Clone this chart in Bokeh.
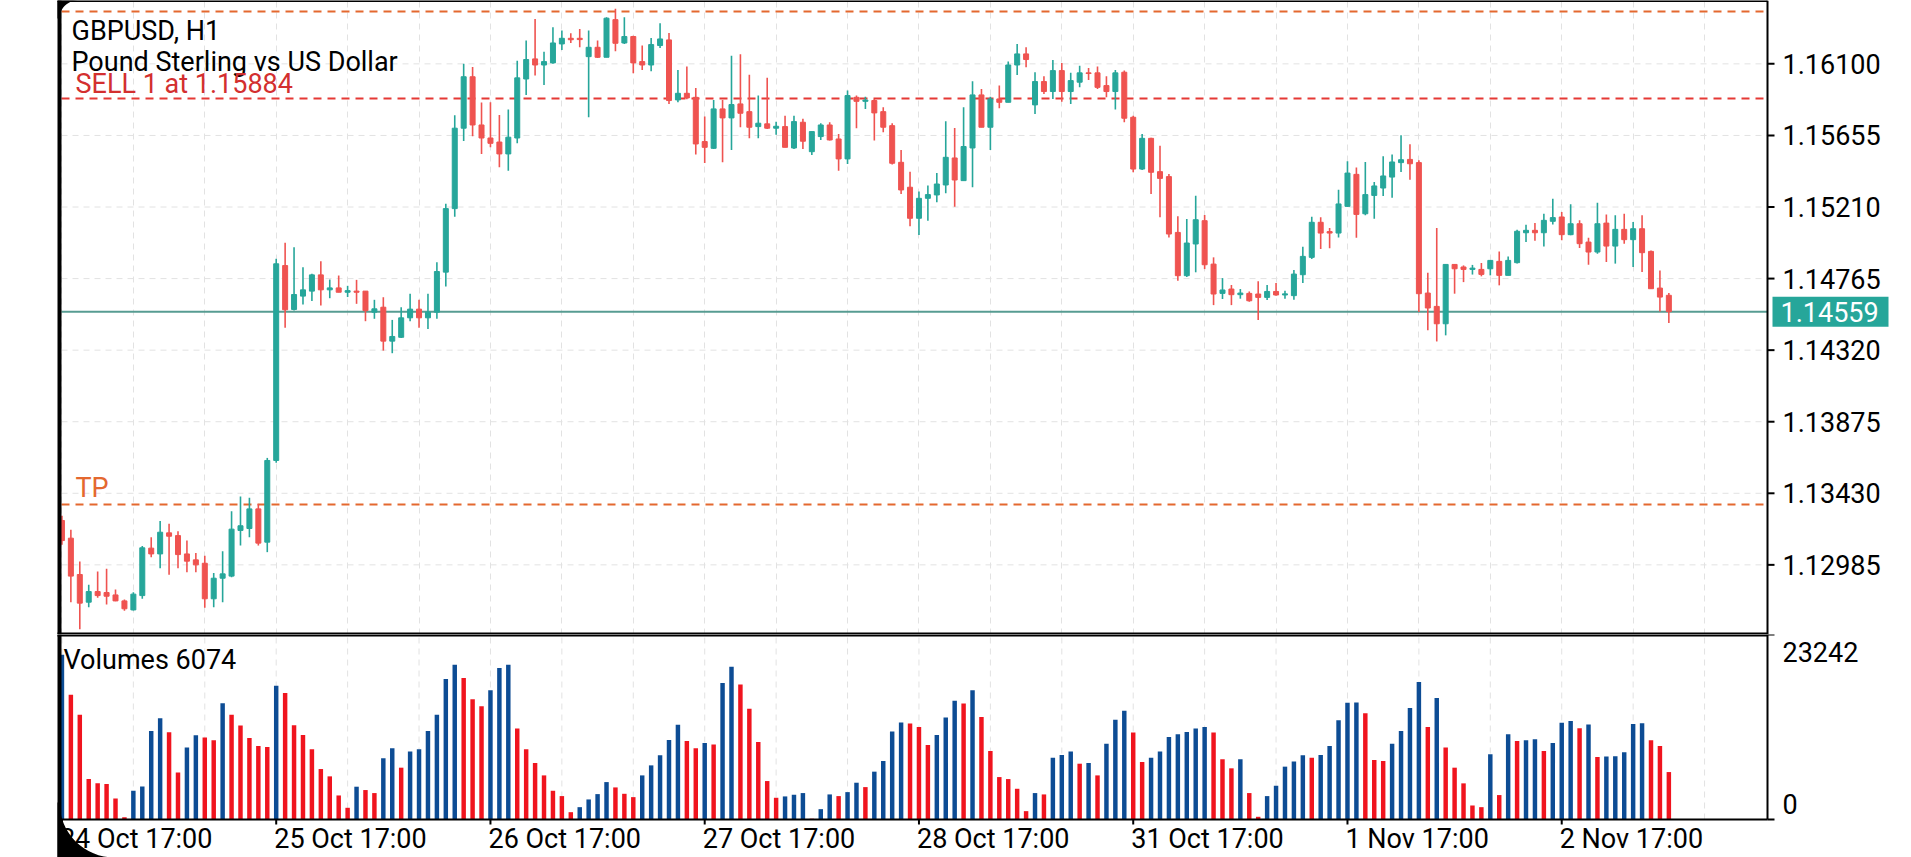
import math
from bokeh.plotting import figure
from bokeh.models import ColumnDataSource, FixedTicker, Range1d, Grid
from bokeh.layouts import column
from bokeh.embed import file_html
from bokeh.resources import INLINE
from bokeh.core.properties import value

# ---------------- data ----------------
symbol = "GBPUSD, H1"
description = "Pound Sterling vs US Dollar"
order_text = "SELL 1 at 1.15884"
tp_text = "TP"
sell_price = 1.15884
tp_price = 1.13360
sl_price = 1.16425
last_price = 1.14559
price_ticks = [1.12985, 1.13430, 1.13875, 1.14320, 1.14765, 1.15210, 1.15655, 1.16100]
vol_max = 23242
vol_title = "Volumes 6074"
date_ticks = [0, 24, 48, 72, 96, 120, 144, 168]
date_labels = ["24 Oct 17:00", "25 Oct 17:00", "26 Oct 17:00", "27 Oct 17:00",
               "28 Oct 17:00", "31 Oct 17:00", "1 Nov 17:00", "2 Nov 17:00"]

opens = [1.13261, 1.13151, 1.12925, 1.12753, 1.12819, 1.12813, 1.12798, 1.12761, 1.12705, 1.12794,
         1.13089, 1.13053, 1.13184, 1.13167, 1.13053, 1.13016, 1.12995, 1.12774, 1.12902, 1.12915,
         1.13199, 1.13211, 1.13333, 1.13126, 1.13634, 1.14846, 1.14573, 1.14656, 1.14687, 1.14788,
         1.14695, 1.14707, 1.14680, 1.14687, 1.14687, 1.14556, 1.14587, 1.14376, 1.14400, 1.14521,
         1.14575, 1.14521, 1.14556, 1.14805, 1.15200, 1.15700, 1.16020, 1.15720, 1.15639, 1.15614,
         1.15540, 1.15639, 1.16006, 1.16131, 1.16093, 1.16106, 1.16224, 1.16259, 1.16259, 1.16145,
         1.16203, 1.16141, 1.16375, 1.16230, 1.16270, 1.16114, 1.16093, 1.16214, 1.16249, 1.15876,
         1.15917, 1.15892, 1.15617, 1.15575, 1.15820, 1.15764, 1.15851, 1.15803, 1.15710, 1.15727,
         1.15700, 1.15710, 1.15577, 1.15737, 1.15554, 1.15648, 1.15720, 1.15633, 1.15509, 1.15892,
         1.15867, 1.15872, 1.15803, 1.15716, 1.15488, 1.15333, 1.15140, 1.15264, 1.15285, 1.15347,
         1.15515, 1.15374, 1.15577, 1.15907, 1.15706, 1.15882, 1.15861, 1.16093, 1.16162, 1.15845,
         1.15990, 1.15928, 1.16058, 1.15928, 1.15986, 1.16044, 1.16044, 1.15965, 1.15928, 1.16048,
         1.15768, 1.15446, 1.15637, 1.15430, 1.15399, 1.15052, 1.14783, 1.14980, 1.15125, 1.14855,
         1.14673, 1.14700, 1.14665, 1.14673, 1.14669, 1.14648, 1.14685, 1.14663, 1.14659, 1.14789,
         1.14897, 1.15115, 1.15057, 1.15048, 1.15214, 1.15413, 1.15168, 1.15282, 1.15328, 1.15396,
         1.15486, 1.15506, 1.15486, 1.14675, 1.14592, 1.14484, 1.14853, 1.14837, 1.14822, 1.14822,
         1.14826, 1.14872, 1.14785, 1.14864, 1.15050, 1.15065, 1.15050, 1.15121, 1.15148, 1.15038,
         1.15106, 1.14992, 1.14930, 1.15110, 1.14967, 1.15071, 1.15007, 1.15075, 1.14934, 1.14706,
         1.14661]
highs = [1.13290, 1.13203, 1.13006, 1.12861, 1.12944, 1.12961, 1.12832, 1.12770, 1.12815, 1.13103,
         1.13157, 1.13257, 1.13240, 1.13194, 1.13136, 1.13058, 1.13041, 1.12935, 1.13070, 1.13319,
         1.13410, 1.13402, 1.13364, 1.13650, 1.14888, 1.14987, 1.14960, 1.14836, 1.14795, 1.14873,
         1.14759, 1.14784, 1.14720, 1.14757, 1.14687, 1.14633, 1.14649, 1.14508, 1.14587, 1.14670,
         1.14633, 1.14670, 1.14867, 1.15230, 1.15780, 1.16100, 1.16080, 1.15860, 1.15861, 1.15782,
         1.15816, 1.16120, 1.16245, 1.16379, 1.16176, 1.16328, 1.16307, 1.16290, 1.16317, 1.16307,
         1.16245, 1.16390, 1.16442, 1.16390, 1.16275, 1.16214, 1.16261, 1.16352, 1.16292, 1.16062,
         1.16083, 1.15950, 1.15772, 1.15876, 1.15876, 1.16150, 1.16160, 1.16033, 1.15903, 1.16013,
         1.15740, 1.15778, 1.15778, 1.15758, 1.15679, 1.15731, 1.15737, 1.15664, 1.15934, 1.15903,
         1.15895, 1.15882, 1.15830, 1.15731, 1.15565, 1.15430, 1.15306, 1.15343, 1.15422, 1.15743,
         1.15702, 1.15830, 1.15992, 1.15944, 1.15896, 1.15965, 1.16114, 1.16224, 1.16203, 1.16048,
         1.16023, 1.16124, 1.16106, 1.16044, 1.16089, 1.16075, 1.16083, 1.16023, 1.16062, 1.16058,
         1.15778, 1.15664, 1.15640, 1.15591, 1.15415, 1.15152, 1.15135, 1.15280, 1.15160, 1.14897,
         1.14768, 1.14725, 1.14700, 1.14685, 1.14748, 1.14725, 1.14737, 1.14690, 1.14818, 1.14963,
         1.15150, 1.15146, 1.15080, 1.15318, 1.15494, 1.15455, 1.15490, 1.15365, 1.15525, 1.15537,
         1.15656, 1.15600, 1.15500, 1.14802, 1.15079, 1.14853, 1.14853, 1.14847, 1.14850, 1.14862,
         1.14878, 1.14934, 1.14903, 1.15069, 1.15100, 1.15110, 1.15168, 1.15262, 1.15179, 1.15227,
         1.15127, 1.15019, 1.15237, 1.15164, 1.15158, 1.15168, 1.15117, 1.15158, 1.14940, 1.14816,
         1.14675]
lows = [1.13110, 1.12753, 1.12585, 1.12722, 1.12780, 1.12738, 1.12759, 1.12700, 1.12701, 1.12774,
        1.13033, 1.12964, 1.12923, 1.12964, 1.12939, 1.12939, 1.12718, 1.12722, 1.12753, 1.12908,
        1.13105, 1.13157, 1.13105, 1.13064, 1.13620, 1.14459, 1.14566, 1.14604, 1.14625, 1.14598,
        1.14643, 1.14680, 1.14650, 1.14608, 1.14500, 1.14515, 1.14317, 1.14301, 1.14396, 1.14500,
        1.14459, 1.14452, 1.14515, 1.14716, 1.15150, 1.15620, 1.15650, 1.15540, 1.15581, 1.15457,
        1.15436, 1.15606, 1.15907, 1.16027, 1.15969, 1.16100, 1.16187, 1.16230, 1.16203, 1.15768,
        1.16137, 1.16141, 1.16178, 1.16224, 1.16042, 1.16062, 1.16054, 1.16199, 1.15851, 1.15861,
        1.15880, 1.15536, 1.15484, 1.15571, 1.15488, 1.15565, 1.15706, 1.15637, 1.15637, 1.15695,
        1.15660, 1.15581, 1.15571, 1.15571, 1.15534, 1.15627, 1.15623, 1.15436, 1.15478, 1.15700,
        1.15820, 1.15623, 1.15675, 1.15474, 1.15291, 1.15090, 1.15036, 1.15125, 1.15239, 1.15295,
        1.15212, 1.15374, 1.15333, 1.15706, 1.15565, 1.15824, 1.15861, 1.16031, 1.16079, 1.15789,
        1.15913, 1.15882, 1.15865, 1.15851, 1.15954, 1.16000, 1.15944, 1.15892, 1.15816, 1.15737,
        1.15426, 1.15440, 1.15291, 1.15146, 1.15021, 1.14752, 1.14775, 1.14804, 1.14824, 1.14600,
        1.14638, 1.14600, 1.14640, 1.14621, 1.14507, 1.14632, 1.14659, 1.14640, 1.14634, 1.14737,
        1.14887, 1.14949, 1.14953, 1.15021, 1.15210, 1.15019, 1.15158, 1.15137, 1.15278, 1.15268,
        1.15428, 1.15380, 1.14557, 1.14443, 1.14374, 1.14412, 1.14671, 1.14743, 1.14790, 1.14779,
        1.14785, 1.14723, 1.14785, 1.14858, 1.14992, 1.15000, 1.14965, 1.15102, 1.15003, 1.15034,
        1.14955, 1.14851, 1.14920, 1.14868, 1.14858, 1.14982, 1.14837, 1.14806, 1.14702, 1.14561,
        1.14489]
closes = [1.13136, 1.12915, 1.12747, 1.12819, 1.12794, 1.12790, 1.12761, 1.12712, 1.12803, 1.13091,
          1.13053, 1.13188, 1.13163, 1.13049, 1.13008, 1.12985, 1.12774, 1.12902, 1.12929, 1.13207,
          1.13228, 1.13333, 1.13120, 1.13634, 1.14857, 1.14571, 1.14666, 1.14695, 1.14788, 1.14695,
          1.14707, 1.14680, 1.14690, 1.14680, 1.14566, 1.14577, 1.14376, 1.14405, 1.14521, 1.14575,
          1.14521, 1.14556, 1.14809, 1.15200, 1.15700, 1.16020, 1.15720, 1.15639, 1.15606, 1.15540,
          1.15644, 1.16013, 1.16127, 1.16093, 1.16114, 1.16230, 1.16259, 1.16250, 1.16251, 1.16203,
          1.16141, 1.16384, 1.16228, 1.16270, 1.16106, 1.16093, 1.16220, 1.16255, 1.15872, 1.15917,
          1.15888, 1.15602, 1.15581, 1.15820, 1.15764, 1.15847, 1.15793, 1.15706, 1.15731, 1.15700,
          1.15712, 1.15581, 1.15741, 1.15619, 1.15679, 1.15720, 1.15627, 1.15509, 1.15903, 1.15867,
          1.15875, 1.15795, 1.15706, 1.15482, 1.15316, 1.15140, 1.15264, 1.15287, 1.15353, 1.15519,
          1.15378, 1.15586, 1.15907, 1.15706, 1.15882, 1.15861, 1.16093, 1.16162, 1.16127, 1.15990,
          1.15928, 1.16058, 1.15928, 1.15996, 1.16044, 1.16040, 1.15954, 1.15928, 1.16044, 1.15762,
          1.15446, 1.15637, 1.15426, 1.15388, 1.15042, 1.14783, 1.14986, 1.15131, 1.14851, 1.14669,
          1.14694, 1.14665, 1.14675, 1.14627, 1.14648, 1.14685, 1.14663, 1.14670, 1.14793, 1.14903,
          1.15115, 1.15048, 1.15048, 1.15229, 1.15421, 1.15164, 1.15287, 1.15341, 1.15403, 1.15490,
          1.15504, 1.15479, 1.14671, 1.14582, 1.14484, 1.14853, 1.14826, 1.14822, 1.14830, 1.14791,
          1.14878, 1.14785, 1.14878, 1.15059, 1.15065, 1.15050, 1.15127, 1.15144, 1.15038, 1.15106,
          1.14982, 1.14930, 1.15106, 1.14967, 1.15071, 1.15007, 1.15075, 1.14926, 1.14702, 1.14650,
          1.14559]
volumes = [20700, 15670, 13150, 5080, 4540, 4450, 2650, 290, 3610, 4160,
           11130, 12730, 10960, 5920, 9030, 10580, 10300, 9950, 14620, 13150,
           11800, 10250, 9240, 9110, 16800, 15880, 11840, 10630, 8820, 6340,
           5420, 3020, 1470, 4120, 3700, 3320, 7690, 8950, 6510, 8530,
           8820, 11130, 13150, 17640, 19450, 17770, 15120, 14240, 16250, 19030,
           19450, 11420, 8820, 7100, 5540, 3610, 2940, 920, 1550, 2520,
           3190, 4700, 4030, 3230, 2810, 5540, 6800, 8060, 10000, 11890,
           9870, 8950, 9620, 9410, 17140, 19190, 16970, 13900, 9740, 4830,
           2730, 2900, 3110, 3320, 100, 1300, 3150, 2940, 3440, 4620,
           4070, 6010, 7350, 11050, 12180, 12050, 11630, 9370, 10630, 12800,
           14910, 14570, 16250, 12890, 8610, 5330, 5080, 3860, 1050, 3320,
           3150, 7770, 8100, 8530, 7010, 7100, 5540, 9530, 12520, 13650,
           10920, 7220, 7770, 8530, 10370, 10700, 11000, 11420, 11630, 10920,
           7560, 6430, 7560, 3320, 340, 2940, 4240, 6640, 7300, 8060,
           7770, 8110, 9240, 12470, 14660, 14700, 13360, 7480, 7350, 9530,
           11130, 14000, 17260, 11630, 15250, 9030, 6510, 4540, 1760, 1550,
           8190, 3070, 10710, 9870, 9950, 10080, 8610, 9620, 12140, 12390,
           11470, 11930, 7850, 7900, 7940, 8440, 12010, 12100, 9950, 9240,
           5960]

# ---------------- geometry / style ----------------
FONT = "Roboto"
FS = "27px"
W = 1911
PRICE_H, VOL_H, VFRAME = 634, 223, 185
BULL, BEAR = "#26a69a", "#ef5350"
VOL_UP, VOL_DN = "#0d4c94", "#f0141e"
GRID = "#e2e2e2"
LEVEL_ORANGE, LEVEL_RED = "#e4682f", "#e53935"

PX = 1706 / 191.1                      # pixels per bar


def xd(px):                            # canvas pixel -> bar coordinate
    return -0.05 + (px - 61) / PX


AX = xd(1767)                          # right axis position
Y0, Y1 = 1.12552, 1.16494
ppp = (Y1 - Y0) / PRICE_H
vppp = vol_max / VFRAME


def yp(py):                            # price panel pixel (from top) -> price
    return Y1 - py * ppp


def yv(py):                            # volume panel pixel (from top) -> volume
    return vol_max - py * vppp


xr = Range1d(xd(0), xd(W))
common = dict(width=W, x_range=xr, x_axis_location=None, y_axis_location=None,
              output_backend="svg", toolbar_location=None, min_border=0,
              min_border_left=0, min_border_right=0, min_border_top=0, min_border_bottom=0)
p = figure(height=PRICE_H, y_range=Range1d(Y0, Y1), **common)
pv = figure(height=VOL_H, y_range=Range1d(yv(VOL_H), vol_max), **common)
for f in (p, pv):
    f.background_fill_color = "white"
    f.border_fill_color = "white"
    f.outline_line_color = None
    f.grid.visible = False


def txt(fig, xs, ys, texts, color="black", align="left", baseline="middle"):
    fig.text(x=xs, y=ys, text=texts, text_font=value(FONT), text_font_size=value(FS),
             text_color=color, text_align=value(align), text_baseline=value(baseline))


n = len(opens)
xs = list(range(n))
vgrid_ticks = list(range(0, 192, 8))

# ---- price panel ----
p.add_layout(Grid(dimension=0, ticker=FixedTicker(ticks=vgrid_ticks),
                  grid_line_color=GRID, grid_line_dash="6 5", grid_line_width=1))
k = len(price_ticks)
p.segment(x0=[xd(61)] * k, x1=[AX] * k, y0=price_ticks, y1=price_ticks,
          line_color=GRID, line_dash="6 5", line_width=1)

for lvl, col in ((sl_price, LEVEL_ORANGE), (sell_price, LEVEL_RED), (tp_price, LEVEL_ORANGE)):
    p.segment(x0=[xd(61)], x1=[AX], y0=[lvl], y1=[lvl], line_color=col, line_dash="8 6", line_width=2)
p.segment(x0=[xd(61)], x1=[AX], y0=[last_price], y1=[last_price], line_color="#579c92", line_width=2)

src = ColumnDataSource(dict(
    x=xs, low=lows, high=highs,
    top=[max(o, c) for o, c in zip(opens, closes)],
    bottom=[min(o, c) for o, c in zip(opens, closes)],
    color=[BULL if c >= o else BEAR for o, c in zip(opens, closes)]))
p.segment(x0="x", y0="low", x1="x", y1="high", line_color="color", line_width=1.6, source=src)
p.vbar(x="x", width=0.56, top="top", bottom="bottom", fill_color="color",
       line_color="color", line_width=1, source=src)

# axis, ticks, labels
p.segment(x0=[AX], x1=[AX], y0=[Y0], y1=[Y1], line_color="black", line_width=2)
p.segment(x0=[AX] * k, x1=[xd(1774)] * k, y0=price_ticks, y1=price_ticks,
          line_color="black", line_width=2)
txt(p, [xd(1782)] * k, price_ticks, [f"{t:.5f}" for t in price_ticks])
p.quad(left=[xd(1772)], right=[xd(1888)], bottom=[last_price - 15 * ppp],
       top=[last_price + 15 * ppp], fill_color=BULL, line_color=None)
txt(p, [xd(1780)], [last_price], [f"{last_price:.5f}"], color="white")

# borders
p.segment(x0=[xd(57)], x1=[AX], y0=[Y1], y1=[Y1], line_color="black", line_width=3)
p.segment(x0=[xd(57)], x1=[AX], y0=[Y0], y1=[Y0], line_color="black", line_width=4)
p.segment(x0=[xd(59)], x1=[xd(59)], y0=[Y0], y1=[Y1], line_color="black", line_width=4)

# texts
txt(p, [xd(71)], [yp(30)], [symbol])
txt(p, [xd(71)], [yp(61)], [description])
txt(p, [xd(75)], [yp(83)], [order_text], color="#d32f2f")
txt(p, [xd(75)], [yp(487)], [tp_text], color=LEVEL_ORANGE)

# rounded screen corner (top-left)
r = 18
arc = [(-90 - 90 * i / 12) for i in range(13)]
cx, cy = 59 + r, r
px_pts = [57, 59 + r] + [cx + r * math.cos(math.radians(a)) for a in arc] + [57]
py_pts = [0, 0] + [cy + r * math.sin(math.radians(a)) for a in arc] + [r]
p.patch(x=[xd(v) for v in px_pts], y=[yp(v) for v in py_pts], fill_color="black", line_color=None)

# ---- volume panel ----
kv = len(vgrid_ticks)
pv.segment(x0=vgrid_ticks, x1=vgrid_ticks, y0=[0] * kv, y1=[vol_max] * kv,
           line_color=GRID, line_dash="6 5", line_width=1)
vcol = [VOL_UP if (i == 0 or volumes[i] > volumes[i - 1]) else VOL_DN for i in range(n)]
vsrc = ColumnDataSource(dict(x=xs, v=volumes, color=vcol))
pv.vbar(x="x", width=0.5, top="v", bottom=0, fill_color="color", line_color=None, source=vsrc)

pv.segment(x0=[xd(57)], x1=[AX], y0=[vol_max], y1=[vol_max], line_color="black", line_width=4)
pv.segment(x0=[xd(59)], x1=[AX], y0=[0], y1=[0], line_color="black", line_width=2)
pv.segment(x0=[AX], x1=[AX], y0=[0], y1=[vol_max], line_color="black", line_width=2)
pv.segment(x0=[AX, AX], x1=[xd(1774)] * 2, y0=[0, vol_max], y1=[0, vol_max],
           line_color="black", line_width=2)
pv.segment(x0=[xd(59)], x1=[xd(59)], y0=[yv(VOL_H)], y1=[vol_max], line_color="black", line_width=4)
kd = len(date_ticks)
pv.segment(x0=date_ticks, x1=date_ticks, y0=[0] * kd, y1=[yv(VFRAME + 5)] * kd,
           line_color="black", line_width=2)

txt(pv, [xd(1782)], [yv(17)], [str(vol_max)])
txt(pv, [xd(1782)], [yv(169)], ["0"])
txt(pv, [xd(63)], [yv(25)], [vol_title])
txt(pv, [t - 2 / PX for t in date_ticks], [yv(204)] * kd, date_labels)

# rounded screen corner (bottom-left)
R = 55
arc2 = [(90 + 90 * i / 16) for i in range(17)]
cx2, cy2 = 59 + R, VOL_H - R
qx = [57, 59 + R] + [cx2 + R * math.cos(math.radians(a)) for a in arc2] + [57]
qy = [VOL_H, VOL_H] + [cy2 + R * math.sin(math.radians(a)) for a in arc2] + [VOL_H - R]
pv.patch(x=[xd(v) for v in qx], y=[yv(v) for v in qy], fill_color="black", line_color=None)

layout = column(p, pv, spacing=0)
open("out.html", "w").write(file_html(layout, INLINE))
